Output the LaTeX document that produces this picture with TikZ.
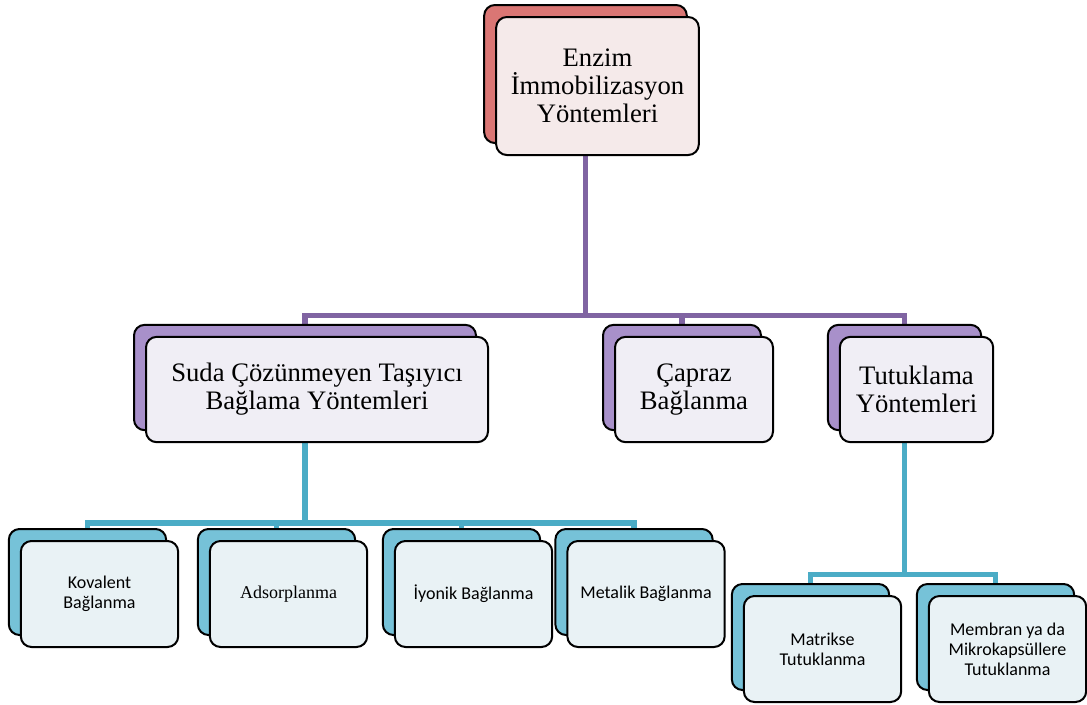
\documentclass[tikz,border=0pt]{standalone}
\usepackage{fontspec}
\setmainfont{Liberation Serif}
\newfontfamily\calibri{Carlito}
\usepackage{tikz}
\usetikzlibrary{shadows, backgrounds, positioning}
\definecolor{RootBack}{RGB}{218, 118, 116}
\definecolor{RootFace}{RGB}{245, 234, 234}
\definecolor{MidBack}{RGB}{168, 144, 202}
\definecolor{MidFace}{RGB}{240, 238, 245}
\definecolor{LeafBack}{RGB}{118, 194, 216}
\definecolor{LeafFace}{RGB}{233, 242, 245}
\definecolor{MidLink}{RGB}{128, 100, 162}
\definecolor{LeafLink}{RGB}{75, 172, 198}
\newcommand{\cardoff}{9pt}

\begin{document}
\begin{tikzpicture}[
        x=0.75pt, y=-0.75pt,
        card/.style={draw=black, line width=1.5pt, rounded corners=8pt, inner sep=2pt, outer sep=0pt, align=center},
        rootcard/.style={card, fill=RootFace,
            general shadow={fill=RootBack, draw=black, line width=1.5pt, shadow xshift=-\cardoff, shadow yshift=\cardoff},
            minimum width=152pt, minimum height=103.5pt, font=\fontsize{20}{21}\selectfont},
        midcard/.style={card, fill=MidFace,
            general shadow={fill=MidBack, draw=black, line width=1.5pt, shadow xshift=-\cardoff, shadow yshift=\cardoff},
            minimum height=79pt, font=\fontsize{20}{21}\selectfont},
        leafcard/.style={card, fill=LeafFace,
            general shadow={fill=LeafBack, draw=black, line width=1.5pt, shadow xshift=-\cardoff, shadow yshift=\cardoff},
            minimum width=118pt, minimum height=79.5pt, font=\calibri\fontsize{13.5}{15}\selectfont},
        midlink/.style={draw=MidLink, line width=4pt},
        leaflink/.style={draw=LeafLink, line width=4pt},
        scale=1.0
    ]

    \useasboundingbox (0,0) rectangle (1087,704);

    \node[rootcard] (root) at (597.5,86) {Enzim\\İmmobilizasyon\\Yöntemleri};

    \node[midcard, minimum width=256.5pt] (suda) at (317,389.5) {Suda Çözünmeyen Taşıyıcı\\Bağlama Yöntemleri};
    \node[midcard, minimum width=118.5pt] (capraz) at (694,389.5) {Çapraz\\Bağlanma};
    \node[midcard, minimum width=115pt] (tutuk) at (916.5,389.5) {Tutuklama\\Yöntemleri};

    \node[leafcard] (koval) at (99.5,594) {Kovalent\\Bağlanma};
    \node[leafcard, font=\rmfamily\fontsize{13.5}{15}\selectfont] (adsor) at (288.5,594) {Adsorplanma};
    \node[leafcard] (iyon) at (473.5,594) {İyonik Bağlanma};
    \node[leafcard] (metal) at (646,594) {Metalik Bağlanma};

    \node[leafcard] (matr) at (822.5,649) {Matrikse\\Tutuklanma};
    \node[leafcard] (membr) at (1007.5,649) {Membran ya da\\Mikrokapsüllere\\Tutuklanma};

    \begin{scope}[on background layer]
        \foreach \kid in {suda, capraz, tutuk}
            \draw[midlink] ([xshift=-\cardoff]root.south) |- ([xshift=-\cardoff, yshift=16pt]\kid.north) -- ([xshift=-\cardoff]\kid.north);
        \foreach \kid in {koval, adsor, iyon, metal}
            \draw[leaflink] ([xshift=-\cardoff]suda.south) |- ([xshift=-\cardoff, yshift=13.5pt]\kid.north) -- ([xshift=-\cardoff]\kid.north);
        \foreach \kid in {matr, membr}
            \draw[leaflink] ([xshift=-\cardoff]tutuk.south) |- ([xshift=-\cardoff, yshift=16pt]\kid.north) -- ([xshift=-\cardoff]\kid.north);
    \end{scope}

\end{tikzpicture}
\end{document}
